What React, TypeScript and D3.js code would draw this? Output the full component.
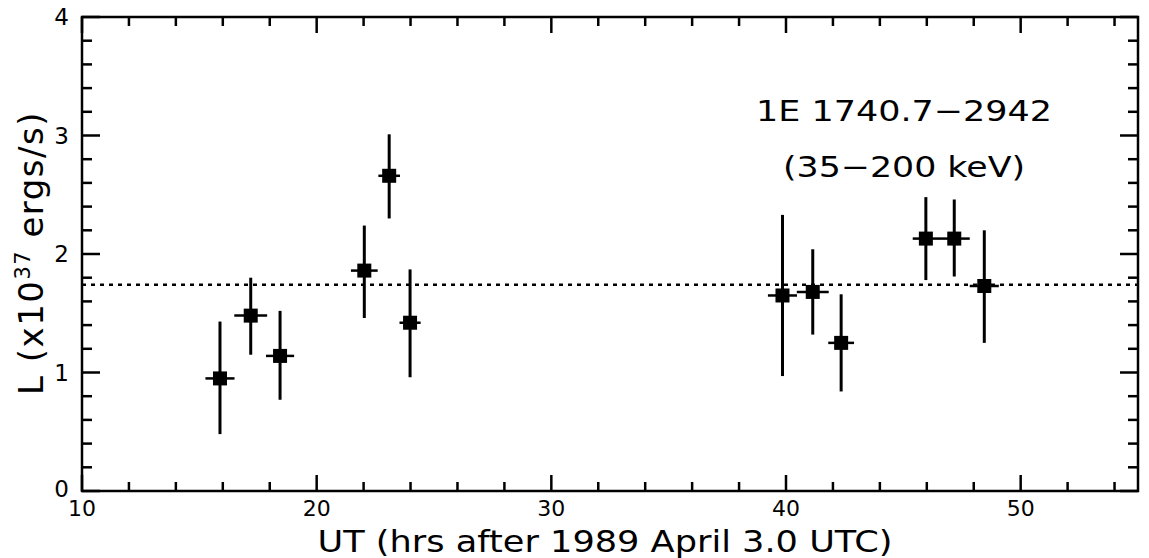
import React from "react";
import * as d3 from "d3";

// Light curve of 1E 1740.7-2942 (35-200 keV)
const hours = [15.88, 17.19, 18.44, 22.03, 23.09, 23.98, 39.85, 41.14, 42.35, 45.96, 47.17, 48.45];
const hourErr = [0.62, 0.7, 0.6, 0.57, 0.46, 0.45, 0.62, 0.68, 0.55, 0.56, 0.66, 0.62];
const lum = [0.95, 1.48, 1.14, 1.86, 2.66, 1.42, 1.65, 1.68, 1.25, 2.13, 2.13, 1.73];
const lumHi = [1.43, 1.8, 1.52, 2.24, 3.01, 1.87, 2.33, 2.04, 1.66, 2.48, 2.46, 2.2];
const lumLo = [0.48, 1.15, 0.77, 1.46, 2.3, 0.96, 0.97, 1.32, 0.84, 1.78, 1.81, 1.25];
const meanLum = 1.74;

const xMajor = [10, 20, 30, 40, 50];
const xMinor = d3.range(12, 55, 2).filter((v) => v % 10 !== 0);
const yMajor = [0, 1, 2, 3, 4];
const yMinor = d3.range(1, 20).map((i) => i / 5).filter((_, i) => (i + 1) % 5 !== 0);

const W = 1149;
const H = 558;
const M = { left: 82, right: 1138, top: 17, bottom: 491 };
const FONT = "'DejaVu Sans', sans-serif";

export default function App() {
  const x = d3.scaleLinear().domain([10, 55]).range([M.left, M.right]);
  const y = d3.scaleLinear().domain([0, 4]).range([M.bottom, M.top]);
  const majLen = 16;
  const minLen = 9;
  const sw = 2.5;
  const sq = 14;

  return (
    <svg
      width={W}
      height={H}
      style={{ position: "absolute", left: 0, top: 0, background: "#fff" }}
      fontFamily={FONT}
    >
      <rect width={W} height={H} fill="#fff" />
      {/* frame */}
      <rect
        x={M.left}
        y={M.top}
        width={M.right - M.left}
        height={M.bottom - M.top}
        fill="none"
        stroke="#000"
        strokeWidth={sw}
      />
      {/* x ticks bottom and top */}
      {xMajor.concat(xMinor).map((v) => {
        const len = xMajor.includes(v) ? majLen : minLen;
        const px = x(v);
        return (
          <g key={"xt" + v} stroke="#000" strokeWidth={sw}>
            <line x1={px} x2={px} y1={M.bottom} y2={M.bottom - len} />
            <line x1={px} x2={px} y1={M.top} y2={M.top + len} />
          </g>
        );
      })}
      {/* y ticks left and right */}
      {yMajor.concat(yMinor).map((v) => {
        const len = yMajor.includes(v) ? majLen + 2 : minLen + 1;
        const py = y(v);
        return (
          <g key={"yt" + v} stroke="#000" strokeWidth={sw}>
            <line x1={M.left} x2={M.left + len} y1={py} y2={py} />
            <line x1={M.right} x2={M.right - len} y1={py} y2={py} />
          </g>
        );
      })}
      {/* tick labels */}
      {xMajor.map((v) => (
        <text
          key={"xl" + v}
          x={x(v)}
          y={M.bottom + 25}
          textAnchor="middle"
          fontSize={22}
        >
          {v}
        </text>
      ))}
      {yMajor.map((v) => (
        <text
          key={"yl" + v}
          x={M.left - 13}
          y={y(v)}
          dy={v === 0 ? "0.25em" : "0.36em"}
          textAnchor="end"
          fontSize={23}
        >
          {v}
        </text>
      ))}
      {/* mean level */}
      <line
        x1={M.left}
        x2={M.right}
        y1={y(meanLum)}
        y2={y(meanLum)}
        stroke="#000"
        strokeWidth={2.5}
        strokeDasharray="4 5"
      />
      {/* data points with error bars */}
      {hours.map((h, i) => (
        <g key={"p" + i} stroke="#000">
          <line x1={x(h)} x2={x(h)} y1={y(lumLo[i])} y2={y(lumHi[i])} strokeWidth={3} />
          <line
            x1={x(h - hourErr[i])}
            x2={x(h + hourErr[i])}
            y1={y(lum[i])}
            y2={y(lum[i])}
            strokeWidth={2.5}
          />
          <rect
            x={x(h) - sq / 2}
            y={y(lum[i]) - sq / 2}
            width={sq}
            height={sq}
            fill="#000"
            stroke="none"
          />
        </g>
      ))}
      {/* source annotation */}
      <text x={904} y={121} textAnchor="middle" fontSize={29} textLength={296} lengthAdjust="spacingAndGlyphs">
        1E 1740.7−2942
      </text>
      <text x={904} y={177} textAnchor="middle" fontSize={29} textLength={242} lengthAdjust="spacingAndGlyphs">
        (35−200 keV)
      </text>
      {/* axis titles */}
      <text x={605} y={552} textAnchor="middle" fontSize={30} textLength={575} lengthAdjust="spacingAndGlyphs">
        UT (hrs after 1989 April 3.0 UTC)
      </text>
      <text
        transform={`translate(43, 253) rotate(-90)`}
        textAnchor="middle"
        fontSize={34}
        letterSpacing={1.5}
      >
        L (x10
        <tspan dy={-13} fontSize={21}>37</tspan>
        <tspan dy={13}> ergs/s)</tspan>
      </text>
    </svg>
  );
}
